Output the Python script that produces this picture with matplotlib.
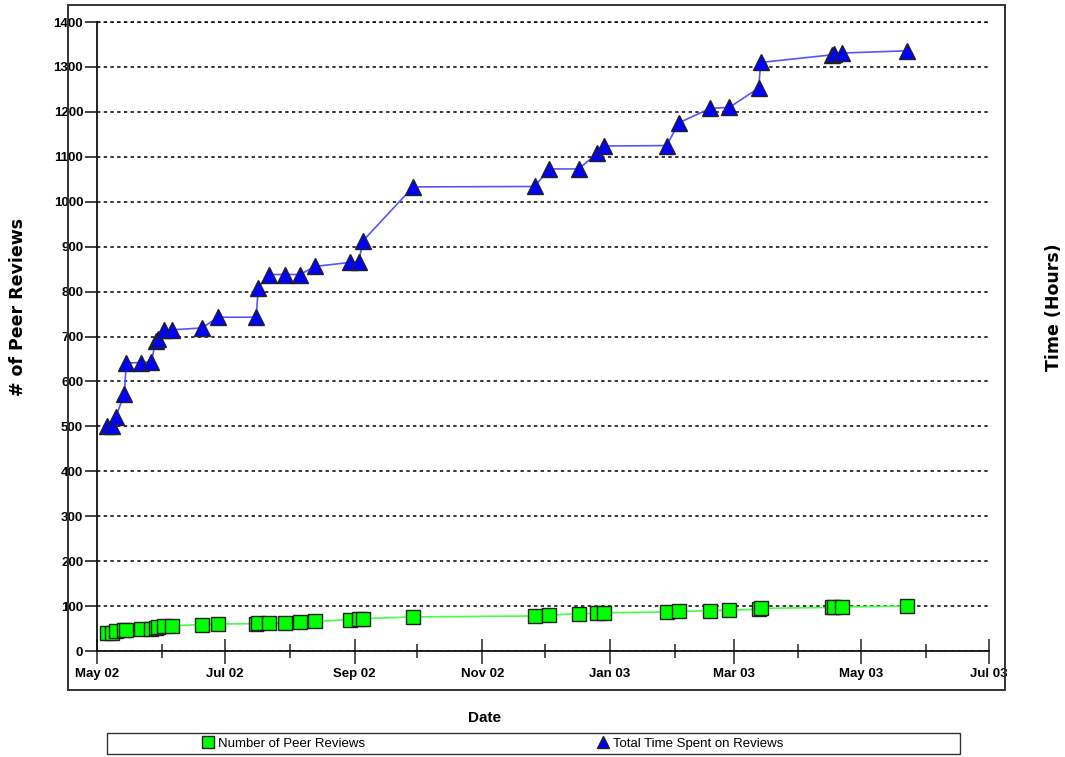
import matplotlib
matplotlib.use('Agg')
import matplotlib.pyplot as plt
import matplotlib.dates as mdates
from matplotlib.patches import Rectangle
from matplotlib.lines import Line2D
import numpy as np

# Review log: date, cumulative count, cumulative hours
dates = ['2002-05-06', '2002-05-08', '2002-05-10', '2002-05-14', '2002-05-15',
         '2002-05-22', '2002-05-27', '2002-05-29', '2002-05-30', '2002-06-02',
         '2002-06-06', '2002-06-20', '2002-06-28', '2002-07-16', '2002-07-17',
         '2002-07-22', '2002-07-30', '2002-08-06', '2002-08-13', '2002-08-30',
         '2002-09-03', '2002-09-05', '2002-09-29', '2002-11-26', '2002-12-03',
         '2002-12-17', '2002-12-26', '2002-12-29', '2003-01-28', '2003-02-03',
         '2003-02-18', '2003-02-27', '2003-03-13', '2003-03-14', '2003-04-17',
         '2003-04-18', '2003-04-22', '2003-05-23']
num_reviews = [40, 41, 44, 46, 47, 48, 50, 52, 53, 55,
               56, 59, 60, 61, 62, 62, 63, 65, 66, 70,
               71, 72, 76, 78, 80, 83, 84, 85, 87, 88,
               90, 91, 93, 95, 97, 98, 98, 100]
total_hours = [500, 500, 521, 572, 641, 642, 644, 690, 694, 715,
               715, 719, 743, 743, 809, 838, 838, 838, 856, 865,
               866, 913, 1033, 1034, 1073, 1073, 1108, 1124, 1125, 1176,
               1208, 1210, 1253, 1310, 1327, 1329, 1331, 1336]

legend_labels = ['Number of Peer Reviews', 'Total Time Spent on Reviews']
x = np.array(dates, dtype='datetime64[D]').astype('O')

font = ['Liberation Sans', 'DejaVu Sans']
plt.rcParams['font.family'] = font

fig = plt.figure(figsize=(10.65, 7.57), dpi=100)
fig.patch.set_facecolor('white')
ax = fig.add_axes([0.0911, 0.1400, 0.8375, 0.8309])

# outer chart frame
fig.patches.append(Rectangle((0.0638, 0.0885), 0.8799, 0.9049, transform=fig.transFigure,
                             fill=False, edgecolor='#333333', linewidth=1.4, zorder=0))

ax.plot(x, num_reviews, color='#44ff44', linewidth=1.2, zorder=3)
ax.plot(x, num_reviews, linestyle='none', marker='s', markersize=10.5,
        markerfacecolor='#00ff00', markeredgecolor='#222222', markeredgewidth=1, zorder=4)
ax.plot(x, total_hours, color='#5555ff', linewidth=1.2, zorder=3)
ax.plot(x, total_hours, linestyle='none', marker='^', markersize=11,
        markerfacecolor='#0000ff', markeredgecolor='#222222', markeredgewidth=1, zorder=4)

ax.set_ylim(0, 1400)
ax.set_yticks(np.arange(0, 1401, 100))
ax.set_xlim(np.datetime64('2002-05-01').astype('O'), np.datetime64('2003-07-01').astype('O'))
ax.xaxis.set_major_locator(mdates.MonthLocator(bymonth=[1, 3, 5, 7, 9, 11]))
ax.xaxis.set_minor_locator(mdates.MonthLocator(bymonth=[2, 4, 6, 8, 10, 12]))
ax.xaxis.set_major_formatter(mdates.DateFormatter('%b %y'))

ax.grid(axis='y', color='black', linestyle=(0, (2.2, 2.2)), linewidth=1.1)
# top gridline would be half clipped at the axes edge
ax.axhline(1400, color='black', linestyle=(0, (2.2, 2.2)), linewidth=1.1, clip_on=False, zorder=1)
ax.set_axisbelow(True)
for s in ['top', 'right']:
    ax.spines[s].set_visible(False)
for s in ['left', 'bottom']:
    ax.spines[s].set_linewidth(1.3)
    ax.spines[s].set_color('#111111')

ax.tick_params(axis='y', direction='out', length=8.5, width=1.3, pad=1.5, color='#333333')
ax.tick_params(axis='x', which='major', direction='inout', length=18, width=1.3, pad=3, color='#444444')
ax.tick_params(axis='x', which='minor', direction='inout', length=10, width=1.3, color='#444444')
for lab in ax.get_xticklabels() + ax.get_yticklabels():
    lab.set_fontweight('bold')
    lab.set_fontsize(9.5)

fig.text(0.017, 0.594, '# of Peer Reviews', rotation=90, ha='center', va='center',
         fontsize=12.5, fontweight='bold', family='DejaVu Sans')
fig.text(0.990, 0.594, 'Time (Hours)', rotation=90, ha='center', va='center',
         fontsize=12.5, fontweight='bold', family='DejaVu Sans')
fig.text(0.455, 0.051, 'Date', ha='center', va='center', fontsize=11, fontweight='bold')

# legend box along the bottom
fig.patches.append(Rectangle((0.1005, 0.0040), 0.8010, 0.0277, transform=fig.transFigure,
                             fill=False, edgecolor='#333333', linewidth=1.0))
handles = [
    Line2D([], [], linestyle='none', marker='s', markersize=8, markerfacecolor='#00ff00',
           markeredgecolor='#222222'),
    Line2D([], [], linestyle='none', marker='^', markersize=9, markerfacecolor='#0000ff',
           markeredgecolor='#222222'),
]
fig.legend(handles, legend_labels, ncol=2, loc='center left', bbox_to_anchor=(0.190, 0.0178),
           frameon=False, handlelength=0.8, handletextpad=0.35, columnspacing=17.7,
           prop={'size': 9.5}, borderaxespad=0, borderpad=0)

fig.savefig('out.png', dpi=100, facecolor='white')
